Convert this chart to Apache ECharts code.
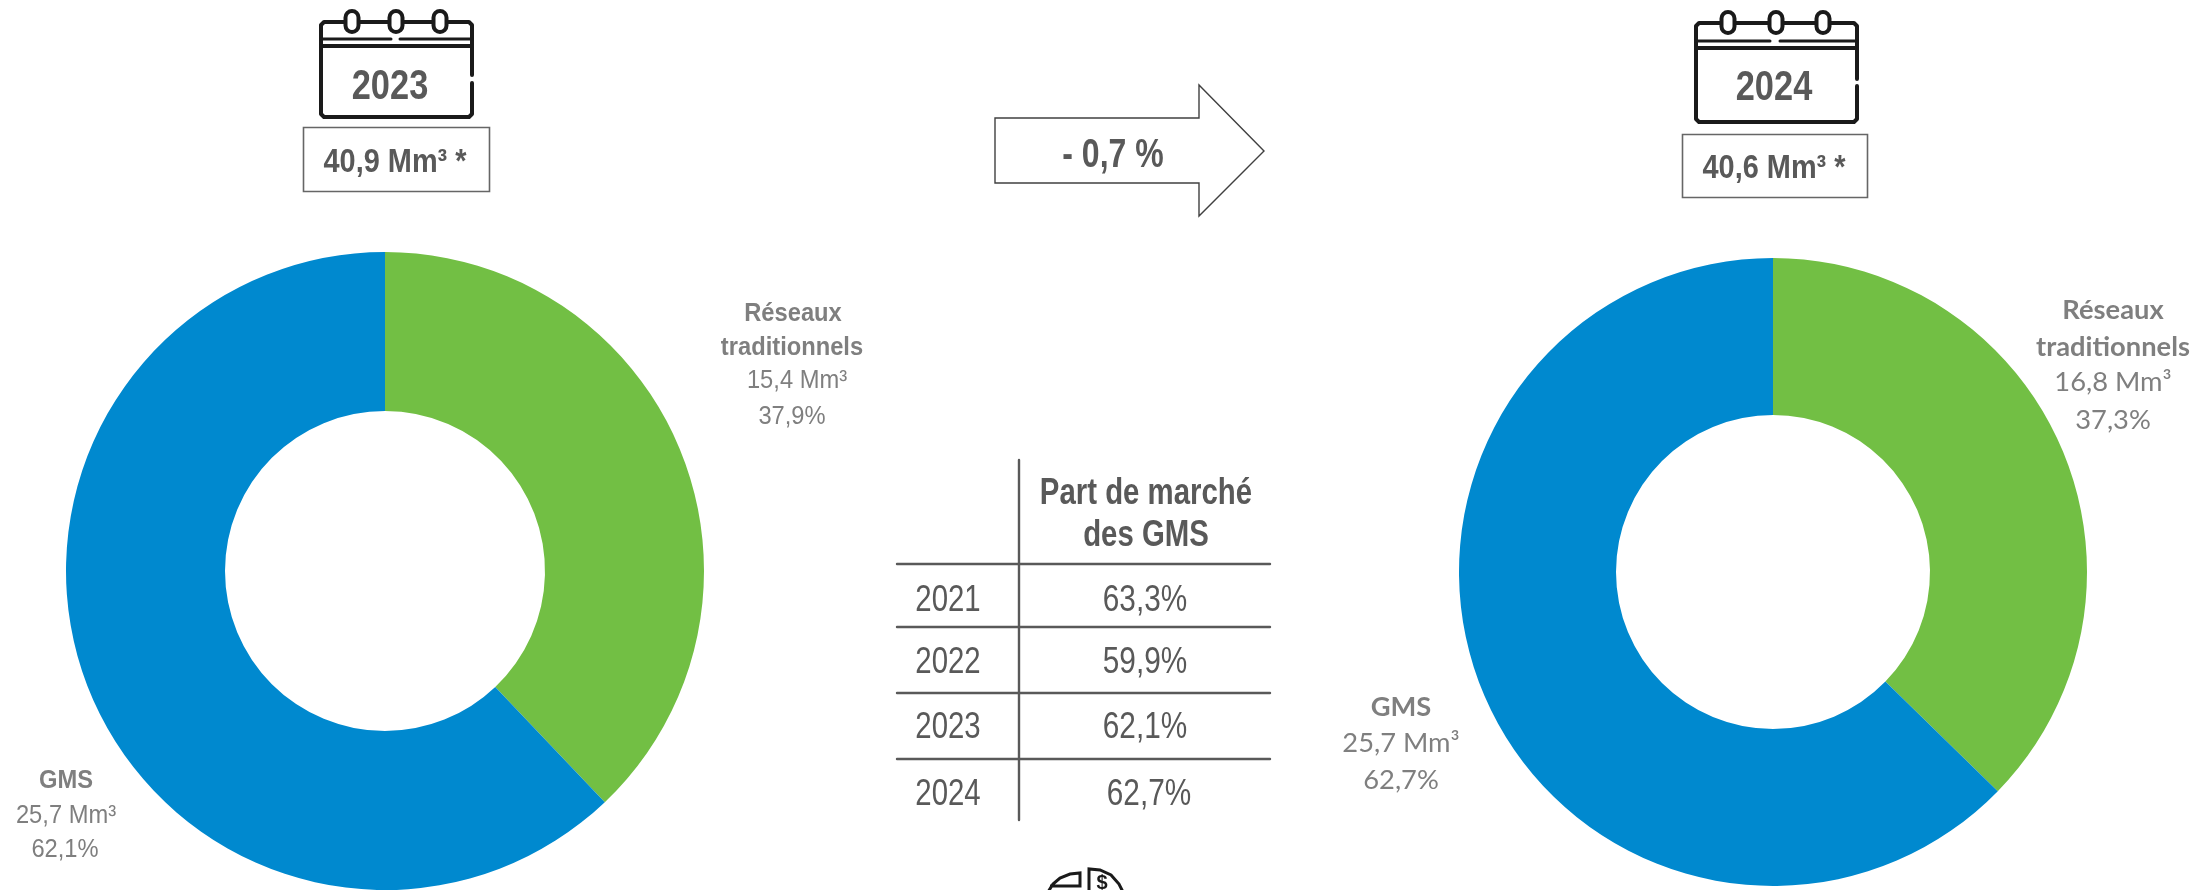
<!DOCTYPE html>
<html><head><meta charset="utf-8">
<style>html,body{margin:0;padding:0;background:#fff}#c{width:2195px;height:890px}</style>
<script src="https://cdn.jsdelivr.net/npm/echarts@6/dist/echarts.min.js"></script>
</head><body><div id="c"></div>
<script>
const segments = ['Réseaux traditionnels', 'GMS'];
const share2023 = [37.9, 62.1];
const share2024 = [37.3, 62.7];
const tableYears = ['2021', '2022', '2023', '2024'];
const tableShares = ['63,3%', '59,9%', '62,1%', '62,7%'];
const tableHeader = ['Part de marché', 'des GMS'];
const colors = ['#72BF44', '#0089CF'];

const ARIAL = '"Liberation Sans",sans-serif';
const LATO = 'Lato,"Open Sans",sans-serif';
const DARK = '#595959', GREY = '#7F7F7F', INK = '#1A1A1A';

function txt(x, y, s, size, weight, fill, family, sx) {
  return { type: 'text', x, y: y + size * 0.08, scaleX: sx || 1, silent: true,
    style: { text: s, fill, align: 'center', verticalAlign: 'middle', font: `${weight} ${size}px ${family}` } };
}
function line(x1, y1, x2, y2, stroke, w) {
  return { type: 'line', shape: { x1, y1, x2, y2 }, style: { stroke, lineWidth: w, lineCap: 'round' } };
}
function calendar(o) {
  const s = { stroke: INK, lineWidth: 4, fill: null, lineCap: 'round', lineJoin: 'round' };
  const e = [];
  e.push({ type: 'polyline', shape: { points: [[o.r, o.gapB], [o.r, o.b - 3], [o.r - 3, o.b], [o.l + 3, o.b], [o.l, o.b - 3], [o.l, o.t + 3], [o.l + 3, o.t], [o.r - 3, o.t], [o.r, o.t + 3], [o.r, o.gapT]] }, style: s });
  e.push(line(o.l, o.y1, o.g1, o.y1, INK, 3));
  e.push(line(o.g2, o.y1, o.r, o.y1, INK, 3));
  e.push(line(o.l, o.y2, o.r, o.y2, INK, 4));
  o.rings.forEach(x => e.push({ type: 'rect', shape: { x: x - 6.5, y: o.ringT, width: 13, height: o.ringB - o.ringT, r: 6.5 },
    style: { stroke: INK, lineWidth: 4, fill: '#fff' } }));
  return e;
}
function box(x, y, w, h) {
  return { type: 'rect', shape: { x, y, width: w, height: h }, style: { stroke: '#666666', lineWidth: 1.6, fill: '#fff' } };
}

const T = 0.8, B = 0.85, L = 0.93, H = 0.805;
const elements = [
  ...calendar({ l: 321, r: 472, t: 22, b: 117, y1: 39, y2: 46, g1: 391, g2: 400, gapT: 75, gapB: 83, rings: [352, 396, 440], ringT: 11, ringB: 32 }),
  txt(390, 84, '2023', 43, 'bold', DARK, ARIAL, T),
  box(303.5, 127.5, 186, 64),
  txt(395, 159.5, '40,9 Mm³ *', 34, 'bold', DARK, ARIAL, B),

  ...calendar({ l: 1696, r: 1857, t: 23, b: 122, y1: 41, y2: 48, g1: 1770, g2: 1780, gapT: 79, gapB: 86, rings: [1728, 1776, 1823], ringT: 12, ringB: 33 }),
  txt(1774, 85, '2024', 43, 'bold', DARK, ARIAL, T),
  box(1682.5, 134.5, 185, 63),
  txt(1774, 165.5, '40,6 Mm³ *', 34, 'bold', DARK, ARIAL, B),

  { type: 'polygon', shape: { points: [[995, 118], [1199, 118], [1199, 85], [1264, 151], [1199, 216], [1199, 183], [995, 183]] },
    style: { stroke: '#404040', lineWidth: 1.4, fill: '#fff' } },
  txt(1113, 152.5, '- 0,7 %', 40, 'bold', DARK, ARIAL, T),

  line(1019, 460, 1019, 820, DARK, 2.4),
  line(897, 564, 1270, 564, DARK, 2.4),
  line(897, 627, 1270, 627, DARK, 2.4),
  line(897, 693, 1270, 693, DARK, 2.4),
  line(897, 759, 1270, 759, DARK, 2.4),
  txt(1146, 491.5, tableHeader[0], 36.5, 'bold', DARK, ARIAL, H),
  txt(1146, 533.5, tableHeader[1], 36.5, 'bold', DARK, ARIAL, H),
];
const rowY = [598, 660, 725, 792];
const valX = [1145, 1145, 1145, 1149];
tableYears.forEach((y, i) => {
  elements.push(txt(948, rowY[i], y, 36.5, 'normal', DARK, ARIAL, H));
  elements.push(txt(valX[i], rowY[i], tableShares[i], 36.5, 'normal', DARK, ARIAL, 0.815));
});

// labels, left donut
elements.push(
  txt(793, 311.5, 'Réseaux', 25.5, 'bold', GREY, ARIAL, L),
  txt(792, 346, 'traditionnels', 25.5, 'bold', GREY, ARIAL, L),
  txt(797, 379, '15,4 Mm³', 25.5, 'normal', GREY, ARIAL, L),
  txt(792, 415, '37,9%', 25.5, 'normal', GREY, ARIAL, L),
  txt(66, 779, 'GMS', 25.5, 'bold', GREY, ARIAL, L),
  txt(66, 814, '25,7 Mm³', 25.5, 'normal', GREY, ARIAL, L),
  txt(65, 848, '62,1%', 25.5, 'normal', GREY, ARIAL, L),
// labels, right donut
  txt(2113, 308.5, 'Réseaux', 26.5, 'bold', GREY, LATO, 1.03),
  txt(2113, 345, 'traditionnels', 26.5, 'bold', GREY, LATO, 1.03),
  txt(2113, 380, '16,8 Mm³', 26.5, 'normal', GREY, LATO, 1.03),
  txt(2113, 418.5, '37,3%', 26.5, 'normal', GREY, LATO, 1.03),
  txt(1401, 705.5, 'GMS', 26.5, 'bold', GREY, LATO, 1.03),
  txt(1401, 741.5, '25,7 Mm³', 26.5, 'normal', GREY, LATO, 1.03),
  txt(1401, 778, '62,7%', 26.5, 'normal', GREY, LATO, 1.03)
);

// partly visible icon at the bottom
const iconStyle = { stroke: INK, lineWidth: 3, fill: null };
elements.push(
  { type: 'polyline', shape: { points: [[1048, 892], [1053, 884], [1060, 878], [1070, 874], [1080, 873], [1080, 886], [1050, 886]] }, style: iconStyle },
  { type: 'polyline', shape: { points: [[1089, 892], [1089, 869], [1100, 870], [1111, 875], [1119, 884], [1123, 892]] }, style: iconStyle },
  txt(1102, 882, '$', 20, 'bold', INK, ARIAL)
);

function donut(center, radius, vals) {
  return { type: 'pie', center, radius, startAngle: 90, clockwise: true, silent: true, animation: false,
    label: { show: false }, labelLine: { show: false },
    data: segments.map((n, i) => ({ name: n, value: vals[i], itemStyle: { color: colors[i] } })) };
}
const chart = echarts.init(document.getElementById('c'), null, { renderer: 'canvas' });
chart.setOption({
  animation: false,
  backgroundColor: '#fff',
  series: [donut([385, 571], [160, 319], share2023), donut([1773, 572], [157, 314], share2024)],
  graphic: { elements }
});
</script></body></html>
